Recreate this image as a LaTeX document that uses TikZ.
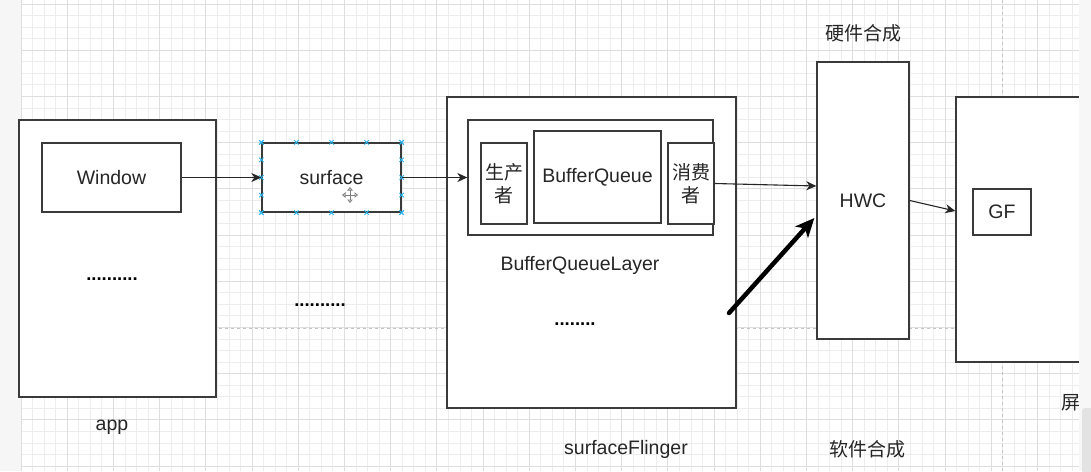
\documentclass[tikz,border=0pt]{standalone}
\usepackage{fontspec}
\setmainfont{Liberation Sans}
\newfontfamily\cjk{Noto Sans CJK SC}
\usepackage{xcolor}
\usetikzlibrary{arrows.meta, positioning, calc}
\definecolor{gridminor}{HTML}{EDEDED}
\definecolor{gridmajor}{HTML}{DEDEDE}
\definecolor{boxline}{HTML}{3A3A3A}
\definecolor{handleblue}{HTML}{29B6F2}
\definecolor{pagebreak}{HTML}{C4C4C4}

\begin{document}
\begin{tikzpicture}[x=1pt, y=-1pt,
  box/.style={rectangle, draw=boxline, fill=white, line width=1.3pt, inner sep=0pt},
  txt/.style={font=\fontsize{19.5}{23}\selectfont, text=black!85},
  dots/.style={font=\fontsize{18.5}{22}\selectfont\bfseries, text=black},
  zh/.style={font=\cjk\fontsize{19}{23}\selectfont, text=black!85},
  link/.style={draw=black!85, line width=1.1pt, -{Stealth[length=10pt, width=9pt, inset=3pt]}},
  fatlink/.style={draw=black, line width=4.5pt, -{Stealth[length=19pt, width=17pt, inset=5pt]}},
  handle/.style={draw=handleblue, line width=0.9pt},
]
  \useasboundingbox (0,0) rectangle (1091,471);
  \clip (0,0) rectangle (1091,471);

  % canvas with grid
  \fill[gray!7] (0,0) rectangle (21,471);
  \fill[white] (21,0) rectangle (1079,471);
  \foreach \i in {0,...,91}
    \draw[gridminor, line width=0.8pt] ({21+\i*11.55},0) -- ({21+\i*11.55},471);
  \foreach \j in {0,...,40}
    \draw[gridminor, line width=0.8pt] (21,{4+\j*11.55}) -- (1079,{4+\j*11.55});
  \foreach \i in {0,...,22}
    \draw[gridmajor, line width=1pt] ({21+\i*46.2},0) -- ({21+\i*46.2},471);
  \foreach \j in {0,...,10}
    \draw[gridmajor, line width=1pt] (21,{4+\j*46.2}) -- (1079,{4+\j*46.2});
  \draw[pagebreak, dashed, line width=1pt] (21,328) -- (1079,328);
  \draw[pagebreak, dashed, line width=1pt] (1002,0) -- (1002,471);

  % app side
  \node[box, minimum width=197pt, minimum height=277pt] (app) at (117.5,258.5) {};
  \node[box, txt, minimum width=139pt, minimum height=69pt] (win) at (111.5,177.5) {Window};
  \node[dots, anchor=base] (appdots) at (112,280) {..........};
  \node[txt] (applbl) at (112,427) {app};

  \node[box, txt, minimum width=139pt, minimum height=69pt] (surf) at (331.5,177.5) {surface};
  \node[dots, anchor=base] (middots) at (320,306) {..........};

  % surfaceFlinger
  \node[box, minimum width=289pt, minimum height=311pt] (sf) at (591.5,252.5) {};
  \node[box, minimum width=245pt, minimum height=115pt] (bql) at (590.5,177.5) {};
  \node[box, zh, align=center, minimum width=46pt, minimum height=81pt] (prod) at (504,183.5) {生产\\者};
  \node[box, txt, minimum width=127pt, minimum height=92pt] (bq) at (597.5,177) {BufferQueue};
  \node[box, zh, align=center, minimum width=46pt, minimum height=81pt] (cons) at (691,183.5) {消费\\者};
  \node[txt] (bqllbl) at (580,265) {BufferQueueLayer};
  \node[dots, anchor=base] (sfdots) at (575,325) {........};
  \node[txt] (sflbl) at (626,449) {surfaceFlinger};

  % composition
  \node[box, txt, minimum width=92pt, minimum height=277pt] (hwc) at (863,200.5) {HWC};
  \node[zh] (hwlbl) at (863,33) {硬件合成};
  \node[zh] (swlbl) at (867,449) {软件合成};

  % screen
  \node[box, minimum width=139pt, minimum height=265pt] (scr) at (1025.5,229.5) {};
  \node[box, txt, minimum width=58pt, minimum height=46pt] (gf) at (1002,212) {GF};
  \node[zh, anchor=west, inner sep=0pt] (scrlbl) at (1061,403) {屏};

  % selection handles on surface
  \foreach \t in {0,0.25,0.5,0.75,1}
    \foreach \p/\q in {north west/north east, south west/south east, north west/south west, north east/south east}
      \draw[handle] ($(surf.\p)!\t!(surf.\q)$) +(-2.2,-2.2) -- +(2.2,2.2) +(-2.2,2.2) -- +(2.2,-2.2);
  \begin{scope}[shift={(350,195)}, gray, line width=0.8pt]
    \draw[{Triangle[open, length=3.5pt, width=5.5pt]}-{Triangle[open, length=3.5pt, width=5.5pt]}] (-8,0) -- (8,0);
    \draw[{Triangle[open, length=3.5pt, width=5.5pt]}-{Triangle[open, length=3.5pt, width=5.5pt]}] (0,-8) -- (0,8);
  \end{scope}

  % connectors
  \draw[link] (win.east) -- (surf.west);
  \draw[link] (surf.east) -- (bql.west);
  \draw[link] (cons.east) -- ($(hwc.west)+(0,-14.5)$);
  \draw[link] (hwc.east) -- ($(scr.west)+(0,-18.5)$);
  \coordinate (fatstart) at (729,313);
  \draw[fatlink, line cap=round] (fatstart) -- ($(hwc.west)+(-2,17.5)$);

  % scrollbar
  \fill[gray!6] (1079,0) rectangle (1091,471);
  \fill[gray!22, rounded corners=3pt] (1082,408) rectangle (1095,480);
\end{tikzpicture}
\end{document}
